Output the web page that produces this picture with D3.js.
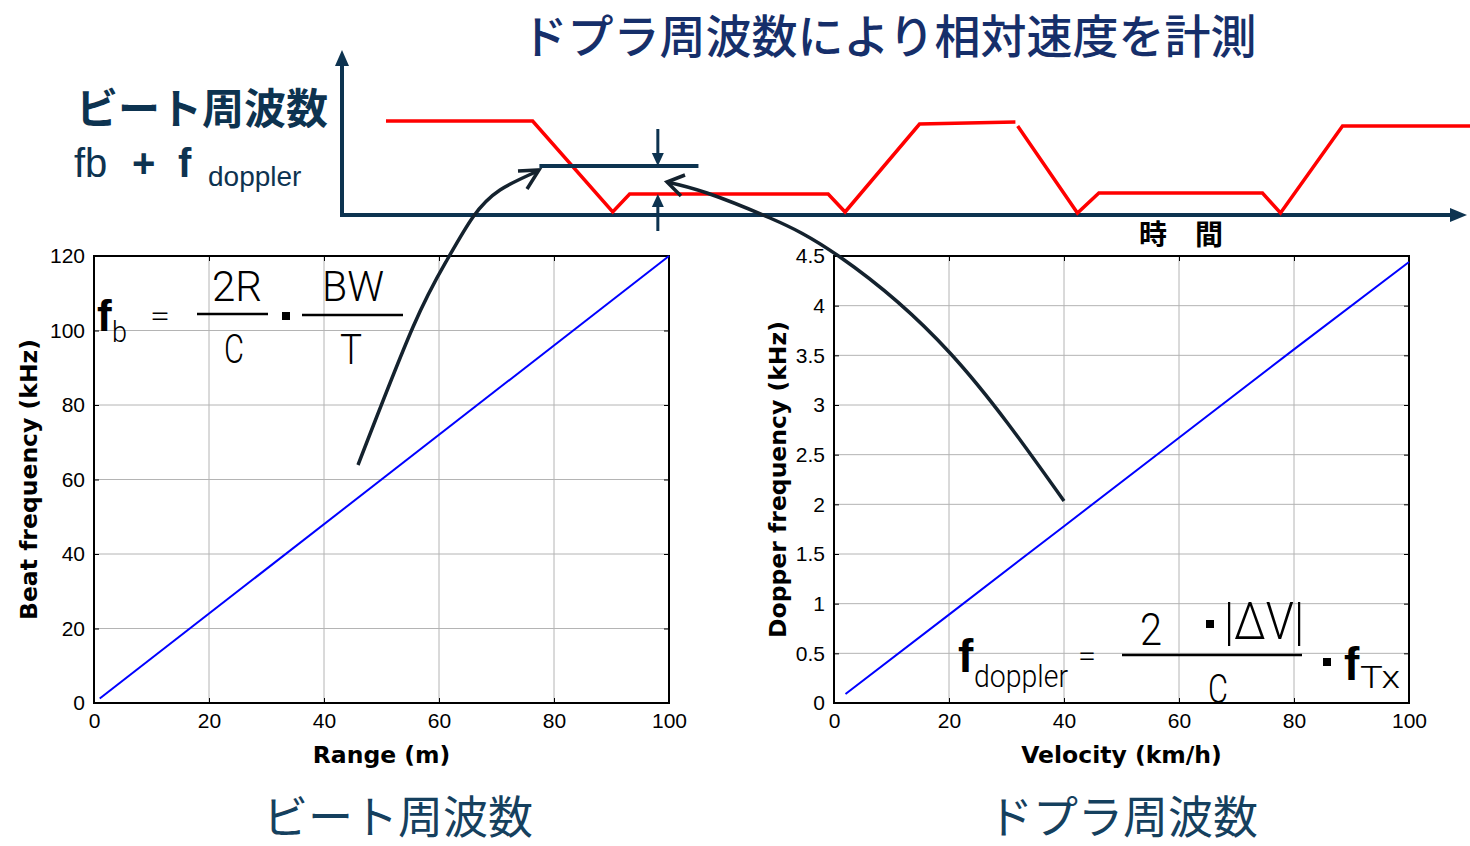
<!DOCTYPE html>
<html>
<head>
<meta charset="utf-8">
<script src="https://cdn.jsdelivr.net/npm/d3@7"></script>
<style>
  body { margin: 0; background: #fff; }
  svg { display: block; }
</style>
</head>
<body>
<svg id="chart" width="1470" height="846"></svg>
<script>
// データ
const rangeM = [1, 100];
const beatKHz = [1.2, 120];
const velocityKmh = [2, 20, 40, 60, 80, 100];
const dopplerKHz = [0.09, 0.89, 1.78, 2.67, 3.56, 4.44];
const rangeTicks = [0, 20, 40, 60, 80, 100];
const beatTicks = [0, 20, 40, 60, 80, 100, 120];
const velTicks = [0, 20, 40, 60, 80, 100];
const dopTicks = [0, 0.5, 1, 1.5, 2, 2.5, 3, 3.5, 4, 4.5];

// 上段のビート周波数の時間変化（null で線を切る）
const timeT = [3.9, 16.9, 24.0, 25.5, 43.1, 44.6, 51.2, 59.7, null, 59.9, 65.2, 67.1, 81.6, 83.2, 88.7, 100];
const beatLevel = [9.4, 9.4, 0.3, 2.1, 2.1, 0.3, 9.1, 9.3, null, 8.9, 0.2, 2.2, 2.2, 0.2, 8.9, 8.9];

const navy = "#0d3350";
const svg = d3.select("#chart");
const numFont = "'Liberation Sans', Arial, sans-serif";
const labelFont = "'DejaVu Sans', sans-serif";
const jpFont = "'Noto Sans CJK JP', sans-serif";
const mathFont = "Roboto, 'Liberation Sans', sans-serif";

// タイトル
svg.append("text")
    .attr("x", 889).attr("y", 53)
    .attr("text-anchor", "middle")
    .attr("font-family", jpFont).attr("font-size", 46).attr("font-weight", 500)
    .attr("fill", "#162f6a")
    .text("ドプラ周波数により相対速度を計測");

// ---- 上段：時間変化図 ----
const tx = d3.scaleLinear().domain([0, 100]).range([342, 1470]);
const ty = d3.scaleLinear().domain([0, 10]).range([215, 115]);

// 軸（矢印付き）
svg.append("line").attr("x1", 342).attr("y1", 217).attr("x2", 342).attr("y2", 62)
    .attr("stroke", navy).attr("stroke-width", 4);
svg.append("path").attr("d", "M335,66 L342,50 L349,66 Z").attr("fill", navy);
svg.append("line").attr("x1", 340).attr("y1", 215).attr("x2", 1452).attr("y2", 215)
    .attr("stroke", navy).attr("stroke-width", 4);
svg.append("path").attr("d", "M1450,208 L1467,215 L1450,222 Z").attr("fill", navy);

const traceLine = d3.line()
    .defined((d, i) => timeT[i] !== null)
    .x((d, i) => tx(timeT[i]))
    .y((d, i) => ty(beatLevel[i]));
svg.append("path")
    .attr("d", traceLine(timeT))
    .attr("fill", "none").attr("stroke", "#ff0000").attr("stroke-width", 3.5)
    .attr("stroke-linejoin", "miter");

// ドプラ分のずれを示すバーと矢印
const barLevel = 4.9;
svg.append("line")
    .attr("x1", tx(17.5)).attr("x2", tx(31.6))
    .attr("y1", ty(barLevel)).attr("y2", ty(barLevel))
    .attr("stroke", navy).attr("stroke-width", 4);
const ax = tx(28.0);
svg.append("line").attr("x1", ax).attr("x2", ax).attr("y1", 129).attr("y2", 156)
    .attr("stroke", navy).attr("stroke-width", 3);
svg.append("path").attr("d", `M${ax - 6},153 L${ax},166 L${ax + 6},153 Z`).attr("fill", navy);
svg.append("line").attr("x1", ax).attr("x2", ax).attr("y1", 231).attr("y2", 204)
    .attr("stroke", navy).attr("stroke-width", 3);
svg.append("path").attr("d", `M${ax - 6},207 L${ax},194 L${ax + 6},207 Z`).attr("fill", navy);

// 左上ラベル
svg.append("text")
    .attr("x", 76).attr("y", 124)
    .attr("font-family", jpFont).attr("font-size", 42).attr("font-weight", 700)
    .attr("fill", navy)
    .text("ビート周波数");
const fl = svg.append("text")
    .attr("x", 74).attr("y", 177)
    .attr("font-family", numFont).attr("font-size", 40)
    .attr("fill", navy);
fl.append("tspan").text("fb");
fl.append("tspan").attr("x", 132).attr("font-weight", 700).text("+");
fl.append("tspan").attr("x", 178).attr("font-weight", 700).text("f");
fl.append("tspan").attr("x", 208).attr("y", 186).attr("font-size", 28).text("doppler");

svg.append("text")
    .attr("x", 1181).attr("y", 245)
    .attr("text-anchor", "middle")
    .attr("font-family", jpFont).attr("font-size", 28).attr("font-weight", 700)
    .attr("fill", "#000")
    .text("時\u3000間");

// ---- 下段グラフ ----
function drawPanel(opts) {
    const g = svg.append("g");
    const x = d3.scaleLinear().domain(opts.xDomain).range([opts.left, opts.right]);
    const y = d3.scaleLinear().domain(opts.yDomain).range([opts.bottom, opts.top]);

    // グリッド
    g.selectAll(".gx").data(opts.xTicks).enter().append("line")
        .attr("x1", d => x(d)).attr("x2", d => x(d))
        .attr("y1", opts.top).attr("y2", opts.bottom)
        .attr("stroke", "#b4b4b4").attr("stroke-width", 1);
    g.selectAll(".gy").data(opts.yTicks).enter().append("line")
        .attr("y1", d => y(d)).attr("y2", d => y(d))
        .attr("x1", opts.left).attr("x2", opts.right)
        .attr("stroke", "#b4b4b4").attr("stroke-width", 1);

    // 軸（内向き目盛り、四辺）
    const axStyle = sel => {
        sel.select(".domain").remove();
        sel.selectAll("line").attr("stroke", "#000");
        sel.selectAll("text").attr("font-family", numFont).attr("font-size", 21).attr("fill", "#000");
    };
    g.append("g").attr("transform", `translate(0,${opts.bottom})`)
        .call(d3.axisBottom(x).tickValues(opts.xTicks).tickSize(-5).tickPadding(10).tickFormat(d3.format("")))
        .call(axStyle);
    g.append("g").attr("transform", `translate(${opts.left},0)`)
        .call(d3.axisLeft(y).tickValues(opts.yTicks).tickSize(-5).tickPadding(9).tickFormat(d3.format("")))
        .call(axStyle);
    g.append("g").attr("transform", `translate(0,${opts.top})`)
        .call(d3.axisTop(x).tickValues(opts.xTicks).tickSize(-5).tickFormat(""))
        .call(axStyle);
    g.append("g").attr("transform", `translate(${opts.right},0)`)
        .call(d3.axisRight(y).tickValues(opts.yTicks).tickSize(-5).tickFormat(""))
        .call(axStyle);

    g.append("rect")
        .attr("x", opts.left).attr("y", opts.top)
        .attr("width", opts.right - opts.left).attr("height", opts.bottom - opts.top)
        .attr("fill", "none").attr("stroke", "#000").attr("stroke-width", 2);

    // データ線
    g.append("path")
        .attr("d", d3.line().x((d, i) => x(opts.xs[i])).y(d => y(d))(opts.ys))
        .attr("fill", "none").attr("stroke", "#0000ff").attr("stroke-width", 2);

    // 軸ラベル
    g.append("text")
        .attr("x", (opts.left + opts.right) / 2).attr("y", opts.bottom + 60)
        .attr("text-anchor", "middle")
        .attr("font-family", labelFont).attr("font-size", 23.5).attr("font-weight", 700)
        .text(opts.xLabel);
    g.append("text")
        .attr("transform", `translate(${opts.yLabelX},${(opts.top + opts.bottom) / 2}) rotate(-90)`)
        .attr("text-anchor", "middle")
        .attr("font-family", labelFont).attr("font-size", 23.5).attr("font-weight", 700)
        .text(opts.yLabel);
    return { x, y };
}

drawPanel({
    left: 94, right: 669, top: 256, bottom: 703,
    xDomain: [0, 100], yDomain: [0, 120],
    xTicks: rangeTicks, yTicks: beatTicks,
    xs: rangeM, ys: beatKHz,
    xLabel: "Range (m)", yLabel: "Beat frequency (kHz)", yLabelX: 37
});

drawPanel({
    left: 834, right: 1409, top: 256, bottom: 703,
    xDomain: [0, 100], yDomain: [0, 4.5],
    xTicks: velTicks, yTicks: dopTicks,
    xs: velocityKmh, ys: dopplerKHz,
    xLabel: "Velocity (km/h)", yLabel: "Dopper frequency (kHz)", yLabelX: 786
});

// ---- 数式（左） ----
const mtxt = (x, y, s, size, opt = {}) => {
    const t = svg.append("text")
        .attr("x", x).attr("y", y)
        .attr("font-family", opt.bold ? numFont : mathFont)
        .attr("font-weight", opt.bold ? 700 : 300)
        .attr("font-size", size).attr("fill", "#000")
        .attr("text-anchor", opt.anchor || "start")
        .text(s);
    if (opt.len) t.attr("textLength", opt.len).attr("lengthAdjust", "spacingAndGlyphs");
    return t;
};
const hbar = (x1, x2, y, w = 2.5) => svg.append("line")
    .attr("x1", x1).attr("x2", x2).attr("y1", y).attr("y2", y)
    .attr("stroke", "#000").attr("stroke-width", w);
const dot = (cx, cy) => svg.append("rect")
    .attr("x", cx - 4).attr("y", cy - 4).attr("width", 8).attr("height", 8).attr("fill", "#000");

mtxt(97, 331, "f", 44, { bold: true });
mtxt(112, 342, "b", 30, { len: 15 });
mtxt(160, 326, "=", 30, { anchor: "middle", len: 20 });
hbar(197, 268, 314);
mtxt(237, 301, "2R", 42, { anchor: "middle", len: 50 });
mtxt(234, 363, "C", 40, { anchor: "middle", len: 20 });
dot(286, 316);
hbar(302, 403, 315);
mtxt(353, 301, "BW", 42, { anchor: "middle", len: 62 });
mtxt(351, 364, "T", 42, { anchor: "middle", len: 22 });

// ---- 数式（右） ----
mtxt(958, 672, "f", 46, { bold: true });
mtxt(974, 687, "doppler", 32, { len: 94 });
mtxt(1087, 666, "=", 30, { anchor: "middle", len: 18 });
mtxt(1151, 645, "2", 44, { anchor: "middle", len: 22 });
dot(1210, 624);
mtxt(1264, 639, "|ΔV|", 52, { anchor: "middle", len: 80 });
hbar(1122, 1302, 655);
mtxt(1218, 703, "C", 40, { anchor: "middle", len: 20 });
dot(1327, 662);
mtxt(1344, 680, "f", 46, { bold: true });
mtxt(1360, 688, "Tx", 32, { len: 40 });

// ---- 曲線の矢印 ----
const curve = d3.line().curve(d3.curveNatural);
const leftArc = [[358, 465], [413, 327], [447, 260], [473, 217], [500, 190], [538, 171]];
const rightArc = [[1064, 501], [950, 353], [840, 257], [770, 218], [707, 193], [667, 182]];
svg.append("path").attr("d", curve(leftArc))
    .attr("fill", "none").attr("stroke", "#14222e").attr("stroke-width", 3.5);
svg.append("path").attr("d", "M518,171 L539,170 L527,189")
    .attr("fill", "none").attr("stroke", "#14222e").attr("stroke-width", 3.5).attr("stroke-linejoin", "miter");
svg.append("path").attr("d", curve(rightArc))
    .attr("fill", "none").attr("stroke", "#14222e").attr("stroke-width", 3.5);
svg.append("path").attr("d", "M685,175 L667,182 L681,196")
    .attr("fill", "none").attr("stroke", "#14222e").attr("stroke-width", 3.5).attr("stroke-linejoin", "miter");

// 下のラベル
svg.append("text")
    .attr("x", 398).attr("y", 834)
    .attr("text-anchor", "middle")
    .attr("font-family", jpFont).attr("font-size", 45)
    .attr("fill", "#15405e")
    .text("ビート周波数");
svg.append("text")
    .attr("x", 1123).attr("y", 834)
    .attr("text-anchor", "middle")
    .attr("font-family", jpFont).attr("font-size", 45)
    .attr("fill", "#15405e")
    .text("ドプラ周波数");
</script>
</body>
</html>
